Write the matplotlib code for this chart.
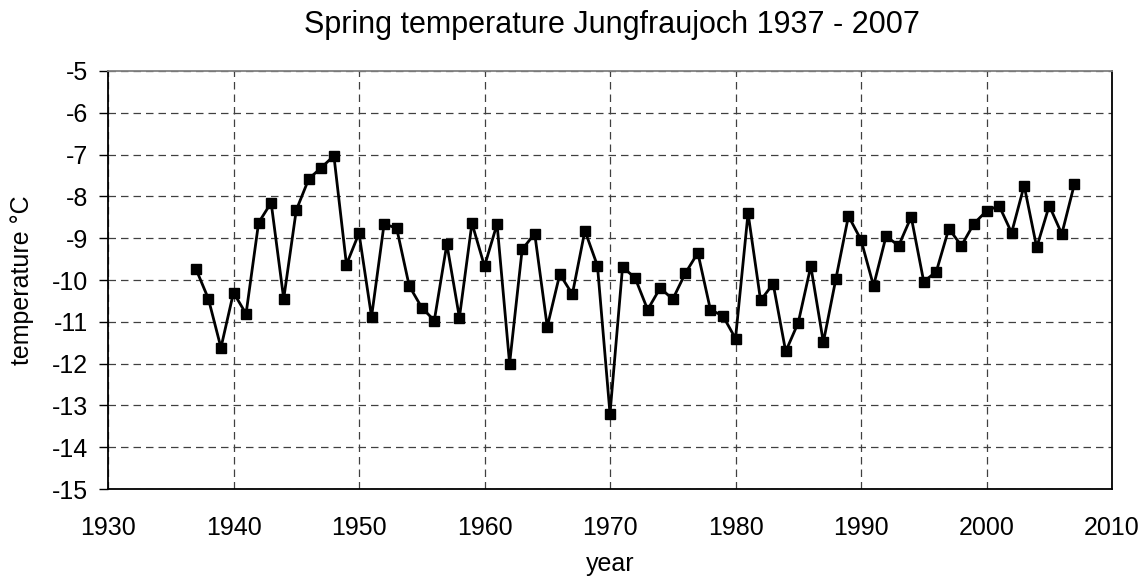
import matplotlib
matplotlib.use('Agg')
import matplotlib.pyplot as plt
import numpy as np

plt.rcParams['font.family'] = ['Liberation Sans', 'DejaVu Sans']
plt.rcParams['axes.unicode_minus'] = False

years = np.arange(1937, 2008)
temps = [-9.73, -10.45, -11.62, -10.30, -10.81, -8.63, -8.15, -10.45, -8.33, -7.58,
         -7.31, -7.03, -9.63, -8.88, -10.88, -8.66, -8.76, -10.14, -10.66, -10.97,
         -9.14, -10.90, -8.64, -9.67, -8.66, -12.00, -9.27, -8.89, -11.12, -9.86,
         -10.34, -8.82, -9.66, -13.20, -9.69, -9.95, -10.71, -10.19, -10.46, -9.84,
         -9.35, -10.71, -10.86, -11.40, -8.40, -10.49, -10.09, -11.71, -11.02, -9.67,
         -11.49, -9.97, -8.47, -9.04, -10.14, -8.95, -9.18, -8.49, -10.04, -9.80,
         -8.77, -9.18, -8.65, -8.35, -8.22, -8.87, -7.74, -9.22, -8.22, -8.90,
         -7.71]

xticks = np.arange(1930, 2011, 10)
yticks = np.arange(-15, -4, 1)

W, H = 1147, 580
fig = plt.figure(figsize=(W/100, H/100), dpi=100)
ax = fig.add_axes([108/W, 1-489/H, (1112-108)/W, (489-71)/H])

ax.plot(years, temps, color='black', lw=2, marker='s', ms=7.5, mfc='black', mec='black')

ax.set_xlim(1930, 2010)
ax.set_ylim(-15, -5)
ax.set_xticks(xticks)
ax.set_yticks(yticks)
ax.grid(True, color='#404040', ls=(0, (6, 4)), lw=0.9)
ax.tick_params(axis='x', length=0, labelsize=18, pad=19.5)
ax.tick_params(axis='y', length=6.5, width=1, labelsize=18, pad=8, direction='out')
for sp in ax.spines.values():
    sp.set_linewidth(1.3)
ax.spines['top'].set_color('#808080')

ax.set_xlabel('year', fontsize=18)
ax.xaxis.set_label_coords(0.5, -(571-489)/(489-71), transform=ax.transAxes)
ax.xaxis.label.set_va('baseline')
ax.set_ylabel('temperature °C', fontsize=18)
ax.yaxis.set_label_coords(-(108-22)/(1112-108), 0.5)
ax.yaxis.label.set_va('center')

fig.text(611.5/W, 1-33/H, 'Spring temperature Jungfraujoch 1937 - 2007', fontsize=22,
         ha='center', va='baseline')

fig.savefig('out.png', dpi=100)
print('M: saved out.png')
